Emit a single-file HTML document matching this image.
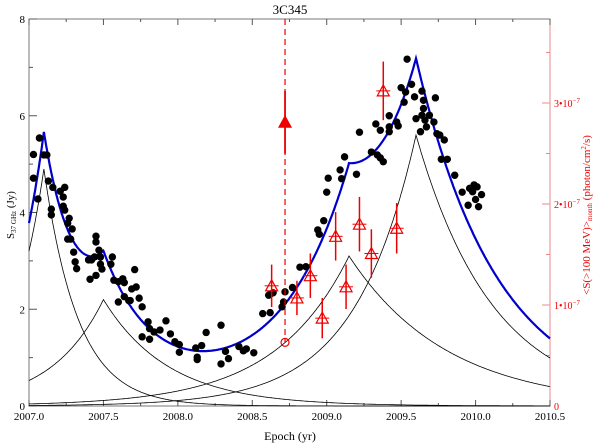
<!DOCTYPE html>
<html><head><meta charset="utf-8"><style>
html,body{margin:0;padding:0;background:#fff}
svg{display:block;font-family:"Liberation Serif",serif}
</style></head><body>
<svg id="chart" width="600" height="443" viewBox="0 0 600 443" xmlns="http://www.w3.org/2000/svg">
<text x="290" y="14" font-size="13" text-anchor="middle">3C345</text>
<text x="290" y="440" font-size="12" text-anchor="middle">Epoch (yr)</text>
<text transform="translate(14,215) rotate(-90)" font-size="11" text-anchor="middle">S<tspan font-size="7" dy="2">37 GHz</tspan><tspan dy="-2"> (Jy)</tspan></text>
<text transform="translate(590,215) rotate(-90)" font-size="11" fill="#e00" text-anchor="middle">&lt;S(&gt;100 MeV)&gt;<tspan font-size="7" dy="2">month</tspan><tspan dy="-2"> (photon/cm</tspan><tspan font-size="7" dy="-4">2</tspan><tspan dy="4">/s)</tspan></text>
<g id="axes"></g><g id="curves"></g><g id="dots"></g><g id="fermi"></g>
</svg>
<script>
const radioT=[2007.03,2007.03,2007.06,2007.07,2007.10,2007.12,2007.13,2007.16,2007.15,2007.15,2007.21,2007.24,2007.23,2007.23,2007.24,2007.27,2007.26,2007.29,2007.26,2007.28,2007.30,2007.31,2007.32,2007.45,2007.45,2007.40,2007.42,2007.44,2007.48,2007.47,2007.48,2007.49,2007.56,2007.55,2007.41,2007.45,2007.57,2007.60,2007.63,2007.64,2007.60,2007.64,2007.67,2007.68,2007.69,2007.72,2007.71,2007.74,2007.76,2007.80,2007.81,2007.76,2007.81,2007.84,2007.88,2007.92,2007.95,2007.98,2008.01,2008.01,2008.12,2008.16,2008.13,2008.13,2008.19,2008.29,2008.32,2008.34,2008.29,2008.41,2008.44,2008.46,2008.51,2008.57,2008.62,2008.62,2008.61,2008.64,2008.70,2008.71,2008.72,2008.77,2008.82,2008.86,2008.94,2008.95,2008.98,2009.00,2009.01,2009.09,2009.10,2009.12,2009.20,2009.22,2009.30,2009.33,2009.34,2009.36,2009.38,2009.36,2009.42,2009.42,2009.42,2009.47,2009.48,2009.50,2009.53,2009.52,2009.54,2009.57,2009.59,2009.60,2009.63,2009.64,2009.65,2009.65,2009.64,2009.66,2009.67,2009.69,2009.72,2009.73,2009.74,2009.76,2009.79,2009.77,2009.81,2009.86,2009.91,2009.95,2009.96,2009.98,2009.99,2010.01,2010.00,2010.02,2010.04];
const radioS=[5.20,4.71,4.28,5.54,5.19,5.19,4.65,4.52,4.07,3.95,4.44,4.52,4.32,4.13,4.05,3.88,3.78,3.66,3.45,3.45,3.18,2.98,2.84,3.51,3.39,3.02,3.02,3.08,3.08,3.22,2.93,2.83,3.08,2.93,2.62,2.70,2.60,2.57,2.63,2.55,2.15,2.26,2.18,2.18,2.42,2.46,2.82,2.23,2.05,1.74,1.60,1.43,1.38,1.53,1.57,1.76,1.49,1.33,1.27,1.11,1.20,1.25,1.01,0.96,1.52,1.67,1.13,0.98,0.87,1.23,1.14,1.18,1.10,1.91,1.93,2.31,2.29,2.34,2.05,2.15,2.36,2.45,2.87,2.88,3.64,3.55,3.83,4.42,4.71,4.88,4.70,5.15,4.79,5.66,5.25,5.83,5.19,5.13,5.05,5.70,5.67,5.77,6.00,5.87,5.79,6.58,6.49,6.28,7.17,6.65,6.39,5.94,5.67,6.51,6.32,6.15,6.01,5.91,5.77,6.01,5.87,6.37,5.63,5.60,5.50,5.10,5.10,4.77,4.42,4.15,4.50,4.43,4.57,4.53,4.27,4.12,4.37];
// flare components: peak epoch, peak amplitude (Jy), rise & decay timescale (yr)
const compT0=[2007.10,2007.50,2009.15,2009.60];
const compA=[4.9,2.2,3.1,5.6];
const compRise=[0.235,0.35,0.5,0.41];
const compDecay=[0.23,0.44,0.66,0.52];
// Fermi monthly fluxes (units 1e-7 ph/cm2/s)
const fermiT=[2008.63,2008.80,2008.89,2008.97,2009.06,2009.13,2009.22,2009.30,2009.38,2009.47];
const fermiF=[1.19,1.07,1.29,0.87,1.68,1.18,1.80,1.51,3.12,1.76];
const fermiErr=[0.21,0.17,0.22,0.20,0.24,0.22,0.27,0.24,0.29,0.25];
const flareT=2008.72, flareF=2.81, flareErr=0.31, upperF=0.63;
const xTicks=["2007.0","2007.5","2008.0","2008.5","2009.0","2009.5","2010.0","2010.5"];
const yTicks=["0","2","4","6","8"];
const y2Ticks=["0","1•10","2•10","3•10"];

const L=29,R=550,T=19,B=406;
const x=t=>L+(t-2007)/(3.5)*(R-L);
const y=s=>B-s/8*(B-T);
const y2=f=>B-f*101;
const NS="http://www.w3.org/2000/svg";
function mk(tag,parent,attrs){const e=document.createElementNS(NS,tag);for(const k in attrs)e.setAttribute(k,attrs[k]);parent.appendChild(e);return e;}
const ax=document.getElementById('axes');
let fr=mk('rect',ax,{x:L,y:T,width:R-L,height:B-T,fill:'none',stroke:'#777','stroke-width':1});

mk('line',ax,{x1:R,y1:T,x2:R,y2:B,stroke:'#e88','stroke-width':1});
for(let i=0;i<=14;i++){const px=L+i*(R-L)/14,len=i%2?3:6;
 mk('line',ax,{x1:px,y1:B,x2:px,y2:B-len,stroke:'#555'});mk('line',ax,{x1:px,y1:T,x2:px,y2:T+len,stroke:'#555'});}
xTicks.forEach((lab,i)=>{const t=mk('text',ax,{x:x(parseFloat(lab)),y:B+14,'font-size':11,'text-anchor':'middle'});t.textContent=lab;
 });
for(let v=0;v<=8;v++){mk('line',ax,{x1:L,y1:y(v),x2:L+(v%2?4:8),y2:y(v),stroke:'#555'});}
yTicks.forEach(lab=>{const t=mk('text',ax,{x:L-4,y:y(+lab)+4,'font-size':11,'text-anchor':'end'});t.textContent=lab;
 });
for(let v=0;v<=3.5;v+=0.5){mk('line',ax,{x1:R,y1:y2(v),x2:R-(v%1?4:8),y2:y2(v),stroke:'#e88'});}
y2Ticks.forEach((lab,i)=>{const t=mk('text',ax,{x:R+4,y:y2(i)+4,'font-size':10,fill:'#e00'});t.textContent=lab;
 if(i>0){const s=mk('tspan',t,{'font-size':7,dy:-4});s.textContent='−7';}
 });
// curves
const cg=document.getElementById('curves');
const comp=(i,t)=>t<compT0[i]?compA[i]*Math.exp((t-compT0[i])/compRise[i]):compA[i]*Math.exp(-(t-compT0[i])/compDecay[i]);
const grid=[];for(let t=2007;t<=2010.5001;t+=0.005)grid.push(t);
compT0.forEach((c,i)=>{const pts=grid.concat([c]).sort((a,b)=>a-b).map(t=>x(t).toFixed(1)+','+y(comp(i,t)).toFixed(1)).join(' ');
 const p=mk('polyline',cg,{points:pts,fill:'none',stroke:'#000','stroke-width':0.8});
 });
const allT=grid.concat(compT0).sort((a,b)=>a-b);
const tot=mk('polyline',cg,{points:allT.map(t=>x(t).toFixed(1)+','+y(compT0.reduce((s,c,i)=>s+comp(i,t),0)).toFixed(1)).join(' '),fill:'none',stroke:'#0000cc','stroke-width':2.2});

// dots
const dg=document.getElementById('dots');
radioT.forEach((t,i)=>{const c=mk('circle',dg,{cx:x(t),cy:y(radioS[i]),r:3.7,fill:'#000'});
 });
// fermi
const fg=document.getElementById('fermi');
const dl=mk('line',fg,{x1:x(flareT),y1:T,x2:x(flareT),y2:y2(upperF),stroke:'#e00','stroke-dasharray':'6,4','stroke-width':1.2});

function tri(cx,cy,fill){return mk('polygon',fg,{points:`${cx-6},${cy+5} ${cx+6},${cy+5} ${cx},${cy-6}`,fill:fill,stroke:'#e00','stroke-width':1.2});}
fermiT.forEach((t,i)=>{const cx=x(t),cy=y2(fermiF[i]);
 const e=mk('line',fg,{x1:cx,y1:y2(fermiF[i]+fermiErr[i]),x2:cx,y2:y2(fermiF[i]-fermiErr[i]),stroke:'#e00','stroke-width':1.5});
 
 const tr=tri(cx,cy,'none');mk('line',fg,{x1:cx-7,y1:cy,x2:cx+7,y2:cy,stroke:'#e00'});
 });
const fe=mk('line',fg,{x1:x(flareT),y1:y2(flareF+flareErr),x2:x(flareT),y2:y2(flareF-flareErr),stroke:'#e00','stroke-width':1.8});

const ft=tri(x(flareT),y2(flareF),'#e00');

const oc=mk('circle',fg,{cx:x(flareT),cy:y2(upperF),r:4,fill:'none',stroke:'#e00','stroke-width':1.2});

</script>
</body></html>
